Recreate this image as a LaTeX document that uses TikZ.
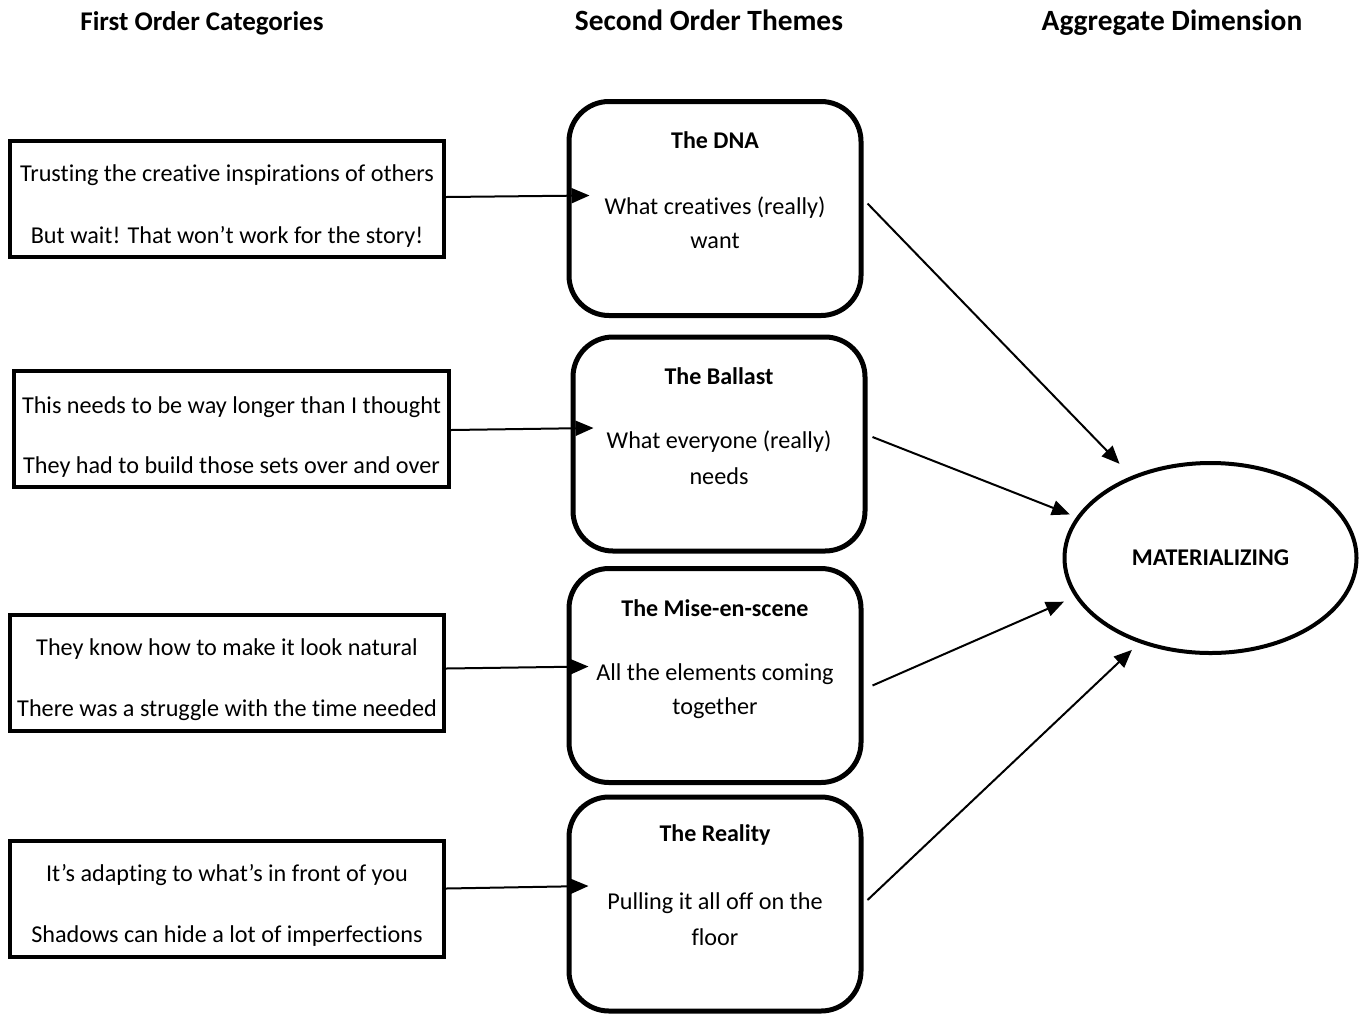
\documentclass[tikz,border=0pt]{standalone}
\usepackage{fontspec}
\setmainfont[Ligatures={NoCommon}]{Carlito}
\usetikzlibrary{arrows.meta,shapes.geometric}
\begin{document}
\begin{tikzpicture}[x=1pt,y=-1pt,
  catbox/.style={draw,line width=4pt,minimum width=#1,minimum height=116pt,inner sep=0pt},
  themebox/.style={draw,line width=5pt,rounded corners=40pt,minimum width=292pt,minimum height=214pt,inner sep=0pt},
  txt/.style={font=\fontsize{24.2}{29}\selectfont,inner sep=0pt},
  btxt/.style={font=\fontsize{24}{29}\selectfont\bfseries,inner sep=0pt},
  head/.style={font=\fontsize{#1}{32}\selectfont\bfseries,inner sep=0pt,anchor=base},
  head/.default=27,
  link/.style={line width=2pt,-{Triangle[length=18pt,width=15pt]}},
]
\useasboundingbox (0,0) rectangle (1359,1013);

% column headings
\node[head] (h1) at (202,30) {First Order Categories};
\node[head=29.4] (h2) at (709,30) {Second Order Themes};
\node[head=29.4] (h3) at (1172,30) {Aggregate Dimension};

% first order categories
\node[catbox=434pt] (b1) at (227,199) {};
\node[txt] at (227,175) {Trusting the creative inspirations of others};
\node[txt] at (227,237) {But wait! That won’t work for the story!};

\node[catbox=435pt] (b2) at (231.5,429) {};
\node[txt] at (231.5,407) {This needs to be way longer than I thought};
\node[txt] at (231.5,467) {They had to build those sets over and over};

\node[catbox=434pt] (b3) at (227,672.5) {};
\node[txt] at (227,649) {They know how to make it look natural};
\node[txt] at (227,710) {There was a struggle with the time needed};

\node[catbox=434pt] (b4) at (227,898.5) {};
\node[txt] at (227,875) {It’s adapting to what’s in front of you};
\node[txt] at (227,936) {Shadows can hide a lot of imperfections};

% second order themes
\node[themebox] (r1) at (715,208.5) {};
\node[btxt] at (715,140) {The DNA};
\node[txt] at (715,208) {What creatives (really)};
\node[txt] at (715,241) {want};

\node[themebox] (r2) at (719,444) {};
\node[btxt] at (719,376) {The Ballast};
\node[txt] at (719,442) {What everyone (really)};
\node[txt] at (719,476) {needs};

\node[themebox] (r3) at (715,675.5) {};
\node[btxt] at (715,608) {The Mise-en-scene};
\node[txt] at (715,674) {All the elements coming};
\node[txt] at (715,708) {together};

\node[themebox] (r4) at (715,904) {};
\node[btxt] at (715,835) {The Reality};
\node[txt] at (715,903) {Pulling it all off on the};
\node[txt] at (715,937) {floor};

% aggregate dimension
\node[draw,line width=4pt,ellipse,minimum width=292pt,minimum height=190pt,inner sep=0pt,
      font=\fontsize{24}{29}\selectfont\bfseries] (m) at (1210.5,558) {MATERIALIZING};

% categories to themes
\draw[link] ([yshift=2pt]b1.east) -- ([xshift=23pt,yshift=13pt]r1.west);
\draw[link] ([yshift=-1pt]b2.east) -- ([xshift=23pt,yshift=16pt]r2.west);
\draw[link] ([yshift=4pt]b3.east) -- ([xshift=22pt,yshift=9pt]r3.west);
\draw[link] ([yshift=10pt]b4.east) -- ([xshift=22pt,yshift=18pt]r4.west);

% themes to aggregate dimension
\draw[link,shorten >=17pt] ([xshift=4pt,yshift=5pt]r1.east) -- (m.134);
\draw[link,shorten >=7pt] ([xshift=5pt,yshift=7pt]r2.east) -- (m.163);
\draw[link,shorten >=12pt] ([xshift=9pt,yshift=-10pt]r3.east) -- (m.196);
\draw[link,shorten >=10pt] ([xshift=4pt,yshift=4pt]r4.east) -- (m.230);
\end{tikzpicture}
\end{document}
